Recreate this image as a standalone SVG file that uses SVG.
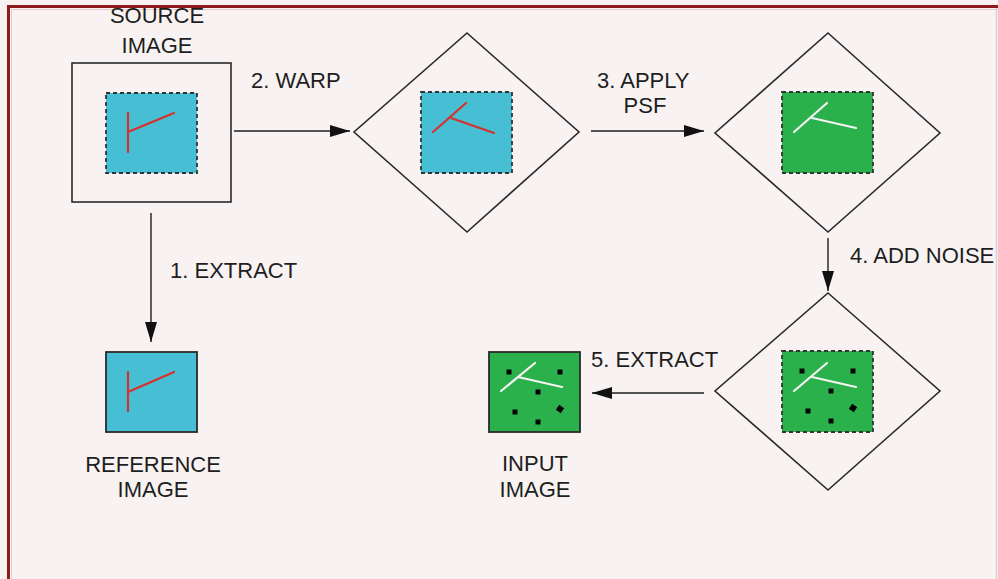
<svg xmlns="http://www.w3.org/2000/svg" width="998" height="579" viewBox="0 0 998 579">
  <defs>
    <style>
      .lbl { font-family: "Liberation Sans", Arial, sans-serif; font-size: 22px; fill: #1e1e1e; }
      .mid { text-anchor: middle; }
      .frame { fill: none; stroke: #2a2a2a; stroke-width: 1.6; }
      .dash { stroke: #333; stroke-width: 1.8; stroke-dasharray: 4 3; }
      .solid { stroke: #2a2a2a; stroke-width: 1.8; }
      .cyan { fill: #46bfd4; }
      .green { fill: #2bb14b; }
      .red { stroke: #d8302b; stroke-width: 2.2; fill: none; stroke-linecap: round; }
      .white { stroke: #f4f4f4; stroke-width: 2.2; fill: none; stroke-linecap: round; }
      .conn { stroke: #1e1e1e; stroke-width: 1.4; fill: none; }
      .dot { fill: #050505; }
    </style>
    <marker id="arrowL" viewBox="0 0 20 12" refX="20" refY="6" markerWidth="20" markerHeight="12" markerUnits="userSpaceOnUse" orient="auto">
      <path d="M0,0 L20,6 L0,12 Z" fill="#111"/>
    </marker>
    <!-- speckle pattern used by the noisy images -->
    <g id="noise">
      <rect class="dot" x="-2.5" y="-2.5" width="5" height="5" transform="translate(20,20)"/>
      <rect class="dot" x="-2.5" y="-2.5" width="5" height="5" transform="translate(71,20)"/>
      <rect class="dot" x="-2.5" y="-2.5" width="5" height="5" transform="translate(49,40)"/>
      <rect class="dot" x="-2.5" y="-2.5" width="5" height="5" transform="translate(26,60)"/>
      <rect class="dot" x="-3" y="-3" width="6" height="6" transform="translate(71,57) rotate(35)"/>
      <rect class="dot" x="-2.5" y="-2.5" width="5" height="5" transform="translate(49,70)"/>
    </g>
  </defs>

  <!-- page -->
  <rect x="0" y="0" width="998" height="579" fill="#f8f3f2"/>
  <line x1="996.5" y1="8" x2="996.5" y2="579" stroke="#d8d0d0" stroke-width="1.5"/>
  <rect x="7" y="5" width="991" height="3" fill="#8e1a1c"/>
  <rect x="7" y="5" width="3" height="574" fill="#8e1a1c"/>
  <line x1="11.5" y1="9" x2="11.5" y2="579" stroke="#e6c9c9" stroke-width="1"/>
  <line x1="11" y1="9.5" x2="998" y2="9.5" stroke="#e6c9c9" stroke-width="1"/>

  <!-- connectors -->
  <g id="connectors">
    <line class="conn" x1="151" y1="213" x2="151" y2="342" marker-end="url(#arrowL)"/>
    <line class="conn" x1="234" y1="131" x2="350" y2="131" marker-end="url(#arrowL)"/>
    <line class="conn" x1="591" y1="131" x2="704" y2="131" marker-end="url(#arrowL)"/>
    <line class="conn" x1="828" y1="238" x2="828" y2="291" marker-end="url(#arrowL)"/>
    <line class="conn" x1="704" y1="393" x2="592" y2="393" marker-end="url(#arrowL)"/>
    <text class="lbl" x="170" y="278">1. EXTRACT</text>
    <text class="lbl" x="251" y="88">2. WARP</text>
    <text class="lbl" x="597" y="88">3. APPLY</text>
    <text class="lbl mid" x="645" y="113">PSF</text>
    <text class="lbl" x="850" y="263">4. ADD NOISE</text>
    <text class="lbl" x="591" y="367">5. EXTRACT</text>
  </g>

  <!-- source image -->
  <g id="source">
    <text class="lbl mid" x="157" y="23">SOURCE</text>
    <text class="lbl mid" x="157" y="53">IMAGE</text>
    <rect class="frame" x="72" y="63" width="159" height="139"/>
    <rect class="cyan dash" x="106" y="93" width="91" height="80"/>
    <path class="red" d="M128,113 V152 M128,132 L174,113"/>
  </g>

  <!-- warped image -->
  <g id="warp">
    <polygon class="frame" points="467,33 579,132 467,232 354,132"/>
    <rect class="cyan dash" x="421" y="92" width="91" height="81"/>
    <path class="red" d="M433,132 L466,103 M451,118 L494,133"/>
  </g>

  <!-- blurred image -->
  <g id="psf">
    <polygon class="frame" points="828,33 940,133 828,232 715,133"/>
    <rect class="green dash" x="782" y="92" width="91" height="81"/>
    <path class="white" d="M794,132 L827,103 M812,118 L856,128"/>
  </g>

  <!-- noisy image -->
  <g id="noisy">
    <polygon class="frame" points="828,293 940,391 828,490 715,391"/>
    <rect class="green dash" x="782" y="351" width="91" height="81"/>
    <path class="white" d="M794,391 L827,363 M812,377 L856,387"/>
    <use href="#noise" x="782" y="351"/>
  </g>

  <!-- reference image -->
  <g id="reference">
    <rect class="cyan solid" x="106" y="352" width="91" height="80"/>
    <path class="red" d="M128,372 V411 M128,392 L174,372"/>
    <text class="lbl mid" x="153" y="472">REFERENCE</text>
    <text class="lbl mid" x="153" y="497">IMAGE</text>
  </g>

  <!-- input image -->
  <g id="input">
    <rect class="green solid" x="489" y="352" width="91" height="80"/>
    <path class="white" d="M501,391 L535,363 M518,377 L562,387"/>
    <use href="#noise" x="489" y="352"/>
    <text class="lbl mid" x="535" y="471">INPUT</text>
    <text class="lbl mid" x="535" y="497">IMAGE</text>
  </g>
</svg>
